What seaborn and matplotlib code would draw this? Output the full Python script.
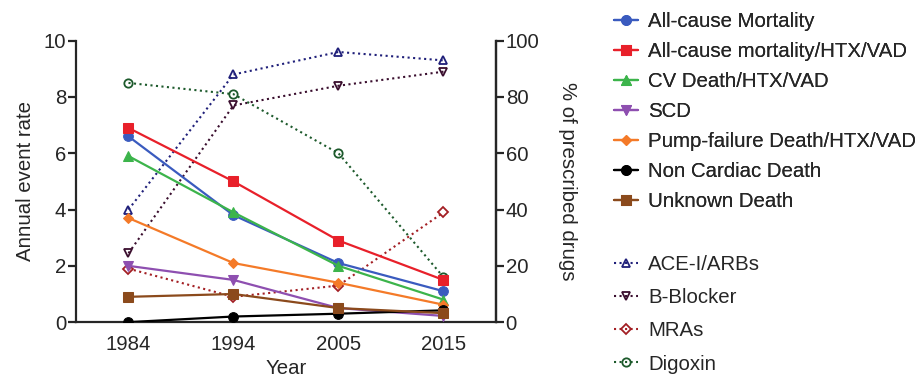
import numpy as np
import pandas as pd
import matplotlib
matplotlib.use("Agg")
import matplotlib.pyplot as plt
import seaborn as sns

# data
years = ["1984", "1994", "2005", "2015"]

all_cause = [6.6, 3.8, 2.1, 1.1]
all_cause_htx = [6.9, 5.0, 2.9, 1.5]
cv_death = [5.9, 3.9, 2.0, 0.8]
scd = [2.0, 1.5, 0.5, 0.22]
pump_failure = [3.7, 2.1, 1.4, 0.62]
non_cardiac = [0.0, 0.2, 0.3, 0.42]
unknown = [0.9, 1.0, 0.5, 0.32]

ace_arb = [40, 88, 96, 93]
b_blocker = [24.5, 77, 84, 89]
mra = [19, 9, 13, 39]
digoxin = [85, 81, 60, 16]

events = [
    ("All-cause Mortality", all_cause, "#3a5bbf", "o"),
    ("All-cause mortality/HTX/VAD", all_cause_htx, "#e8202a", "s"),
    ("CV Death/HTX/VAD", cv_death, "#3cb44b", "^"),
    ("SCD", scd, "#8e4fb0", "v"),
    ("Pump-failure Death/HTX/VAD", pump_failure, "#f47a28", "D"),
    ("Non Cardiac Death", non_cardiac, "#000000", "o"),
    ("Unknown Death", unknown, "#8b4a1c", "s"),
]
drugs = [
    ("ACE-I/ARBs", ace_arb, "#20207a", "^"),
    ("B-Blocker", b_blocker, "#3a0e2e", "v"),
    ("MRAs", mra, "#a31f24", "D"),
    ("Digoxin", digoxin, "#1d5a2c", "o"),
]

sns.set_style("ticks")
plt.rcParams["font.family"] = ["Liberation Sans", "DejaVu Sans"]
fs = 14.7

fig = plt.figure(figsize=(9.2, 3.79), dpi=100)
ax = fig.add_axes([0.0826, 0.150, 0.4565, 0.7426])
ax2 = ax.twinx()

for name, vals, col, mk in drugs:
    df = pd.DataFrame({"year": years, "val": vals})
    sns.lineplot(data=df, x="year", y="val", ax=ax2, color=col, marker=mk,
                 markersize=6 if mk != "D" else 5, markerfacecolor="none",
                 markeredgecolor=col, markeredgewidth=1.3, linestyle=":",
                 linewidth=1.5, label=name, legend=False)

for name, vals, col, mk in events:
    df = pd.DataFrame({"year": years, "val": vals})
    sns.lineplot(data=df, x="year", y="val", ax=ax, color=col, marker=mk,
                 markersize=7 if mk != "D" else 5, markeredgecolor=col,
                 linewidth=1.6, label=name, legend=False, zorder=3)

ax.set_zorder(ax2.get_zorder() + 1)
ax.patch.set_visible(False)

ax.set_xlim(-0.5, 3.5)
ax.set_ylim(0, 10)
ax2.set_ylim(0, 100)
ax.set_yticks([0, 2, 4, 6, 8, 10])
ax2.set_yticks([0, 20, 40, 60, 80, 100])
ax.set_xlabel("Year", fontsize=fs, labelpad=4)
ax.set_ylabel("Annual event rate", fontsize=fs, labelpad=6)
ax2.set_ylabel("% of prescribed drugs", fontsize=fs, rotation=270, labelpad=27)

for a in (ax, ax2):
    a.spines["top"].set_visible(False)
    for s in a.spines.values():
        s.set_linewidth(1.6)
    a.tick_params(axis="y", width=1.6, length=6, labelsize=fs, pad=1)
ax.tick_params(axis="x", length=0, labelsize=fs, pad=9)
ax2.spines["left"].set_visible(False)
ax2.spines["bottom"].set_visible(False)

h1 = [l for l in ax.get_lines() if not l.get_label().startswith("_")]
h2 = [l for l in ax2.get_lines() if not l.get_label().startswith("_")]

leg1 = fig.legend(handles=h1, labels=[h.get_label() for h in h1],
                  loc="upper left", bbox_to_anchor=(0.659, 0.99), frameon=False,
                  fontsize=fs, handlelength=1.15, handletextpad=0.5,
                  labelspacing=0.54, borderaxespad=0)
leg2 = fig.legend(handles=h2, labels=[h.get_label() for h in h2],
                  loc="upper left", bbox_to_anchor=(0.659, 0.348), frameon=False,
                  fontsize=fs, handlelength=1.15, handletextpad=0.5,
                  labelspacing=0.69, borderaxespad=0)
fig.add_artist(leg1)

fig.savefig("out.png", dpi=100)
